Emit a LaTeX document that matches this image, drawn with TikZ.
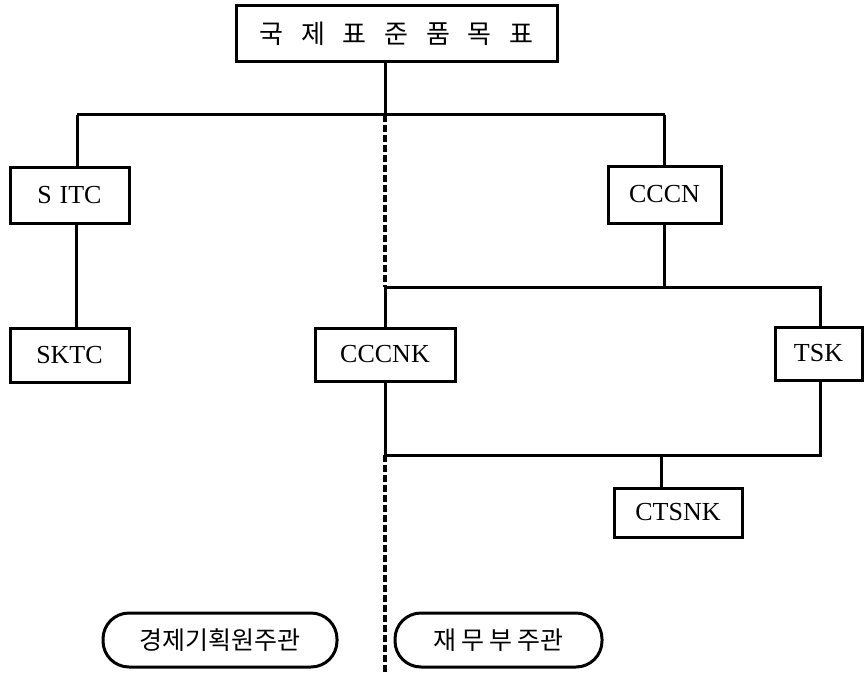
\documentclass[tikz,border=0pt]{standalone}
\usepackage{fontspec}
\setmainfont{Liberation Serif}
\newfontfamily\kr{Noto Sans CJK KR}
\begin{document}
\begin{tikzpicture}[x=1pt,y=-1pt,
  boxnode/.style={draw,line width=3pt,inner sep=0pt,font=\fontsize{26}{26}\selectfont},
  ovalnode/.style={draw,line width=3pt,inner sep=0pt,rounded corners=26pt,font=\kr\fontsize{25}{25}\selectfont},
  link/.style={line width=3pt},
  dashlink/.style={line width=3.2pt,dash pattern=on 7pt off 3pt}]
\useasboundingbox[fill=white] (0,0) rectangle (864,674);
% boxes
\node[boxnode,minimum width=321pt,minimum height=56pt,font=\kr\fontsize{26}{26}\selectfont] (top) at (396.5,34) {국\hspace{0.68em}제\hspace{0.68em}표\hspace{0.68em}준\hspace{0.68em}품\hspace{0.68em}목\hspace{0.68em}표};
\node[boxnode,minimum width=119pt,minimum height=56pt] (sitc) at (69.5,195) {S\hspace{0.3em}ITC};
\node[boxnode,minimum width=119pt,minimum height=54pt] (sktc) at (69.5,355) {SKTC};
\node[boxnode,minimum width=113pt,minimum height=57pt] (cccn) at (664.5,194.5) {CCCN};
\node[boxnode,minimum width=140pt,minimum height=53pt] (cccnk) at (385,354.5) {CCCNK};
\node[boxnode,minimum width=87pt,minimum height=53pt] (tsk) at (818.5,353.5) {TSK};
\node[boxnode,minimum width=128pt,minimum height=49pt] (ctsnk) at (678,512.5) {CTSNK};
\node[ovalnode,minimum width=234pt,minimum height=54pt] (ovl) at (220,640) {경제기획원주관};
\node[ovalnode,minimum width=207pt,minimum height=54pt] (ovr) at (498.5,640) {재\hspace{0.2em}무\hspace{0.2em}부\hspace{0.2em}주관};
% junction coordinates
\coordinate (j0) at (385,115);
\coordinate (jl) at (77,115);
\coordinate (jr) at (664.5,115);
\coordinate (k1) at (385,287);
\coordinate (k2) at (664.5,287);
\coordinate (k3) at (820,287);
\coordinate (m1) at (385,455);
\coordinate (m2) at (661,455);
\coordinate (m3) at (820,455);
\coordinate (bot) at (385,674);
% connectors
\draw[link] (top.south -| j0) -- (j0);
\draw[link] (jl) -- (jr);
\draw[link] (jl) -- (sitc.north -| jl);
\draw[link] (jr) -- (cccn.north);
\draw[link] (sitc.south -| 76,0) -- (sktc.north -| 76,0);
\draw[link] (cccn.south) -- (k2);
\draw[link] (cccnk.north) -- (k1) -- (k3) -- (tsk.north -| k3);
\draw[link] (cccnk.south) -- (m1) -- (m3) -- (tsk.south -| m3);
\draw[link] (m2) -- (ctsnk.north -| m2);
\draw[dashlink] (j0) -- (k1);
\draw[dashlink] (m1) -- (bot);
\end{tikzpicture}
\end{document}
